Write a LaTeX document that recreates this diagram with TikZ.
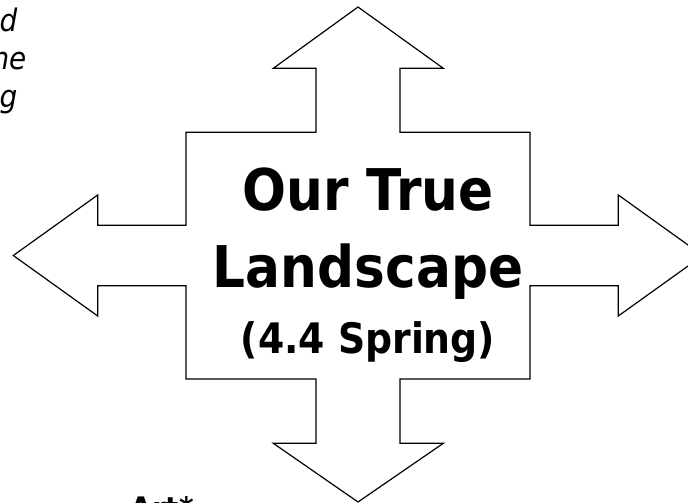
\documentclass[tikz,border=0pt]{standalone}
\usepackage{fontspec}
\setmainfont{DejaVu Sans Condensed}
\usepackage{tikz}
\usetikzlibrary{positioning}

\begin{document}
\begin{tikzpicture}[x=1pt, y=-1pt, line width=1.2pt, line join=miter,
	   title/.style={font=\bfseries\fontsize{57.5}{60}\selectfont, inner sep=0pt, anchor=base},
	   side/.style={font=\itshape\fontsize{31}{37}\selectfont, inner sep=0pt, anchor=base east}]
	  \useasboundingbox (0,0) rectangle (688,503);
	  \clip (0,0) rectangle (688,503);
	  % four-way arrow
	  \draw (358,7) -- (443.3,68.3) -- (400,68.3) -- (400,132.3) -- (530,132.3) -- (530,225.3)
	    -- (618.3,225.3) -- (618.3,195) -- (702.7,255.5) -- (618.3,316) -- (618.3,285.7) -- (530,285.7)
	    -- (530,379) -- (400,379) -- (400,443.3) -- (443.3,443.3) -- (358,502) -- (273.3,443.3)
	    -- (316,443.3) -- (316,379) -- (186,379) -- (186,285.7) -- (97.7,285.7) -- (97.7,316)
	    -- (13.3,255.5) -- (97.7,195) -- (97.7,225.3) -- (186,225.3) -- (186,132.3) -- (316,132.3)
	    -- (316,68.3) -- (273.3,68.3) -- cycle;
	  \node[title] (our) at (368,210) {Our True};
	  \node[title] (land) at (368,287) {Landscape};
	  \node[title, font=\bfseries\fontsize{42}{44}\selectfont] (spring) at (368,353) {(4.4 Spring)};
	  % cut-off notes
	  \node[side] (n1) at (18,32) {d};
	  \node[side] (n2) at (27,69.5) {he};
	  \node[side] (n3) at (18,107) {g};
	  \node[font=\bfseries\fontsize{31}{33}\selectfont, inner sep=0pt, anchor=base west] (art) at (130,519) {Art*};
	\end{tikzpicture}
\end{document}
